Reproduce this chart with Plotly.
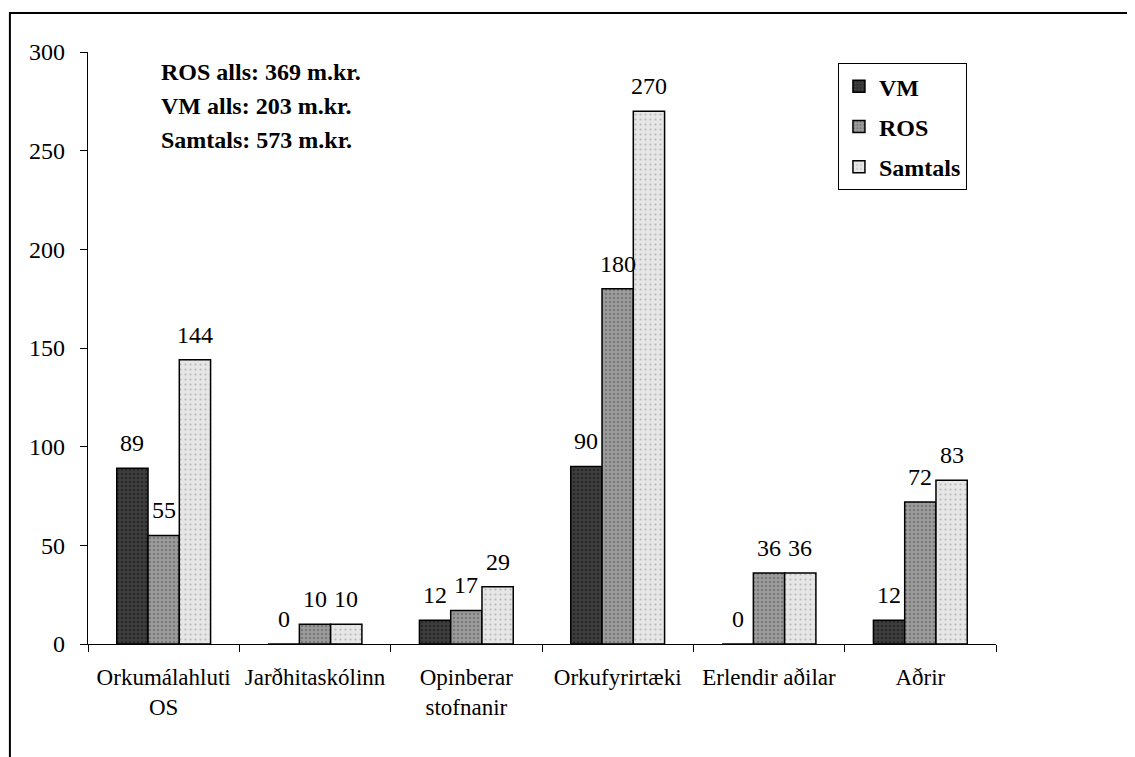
import plotly.graph_objects as go

# Categories and values (m.kr.)
CATEGORIES = ["Orkumálahluti<br>OS", "Jarðhitaskólinn", "Opinberar<br>stofnanir",
              "Orkufyrirtæki", "Erlendir aðilar", "Aðrir"]
VM = [89, 0, 12, 90, 0, 12]
ROS = [55, 10, 17, 180, 36, 72]
SAMTALS = [144, 10, 29, 270, 36, 83]

SUMMARY = ["ROS alls: 369 m.kr.", "VM alls: 203 m.kr.", "Samtals: 573 m.kr."]

SERIF = "Liberation Serif"
BAR_PX = 31.3  # width of one bar in pixels, used to place value labels

# (name, values, fill, stipple colour, stipple size, solidity)
SERIES = [
    ("VM", VM, "#3e3e3e", "#111111", 4, 0.35),
    ("ROS", ROS, "#9c9c9c", "#555555", 4, 0.3),
    ("Samtals", SAMTALS, "#e6e6e6", "#8a8a8a", 5, 0.15),
]

fig = go.Figure()
for i, (name, vals, fill, dots, size, solid) in enumerate(SERIES):
    fig.add_trace(go.Bar(
        x=CATEGORIES, y=vals, name=f"<b>{name}</b>", legendgroup=name,
        marker=dict(color=fill, line=dict(color="black", width=1.5),
                    pattern=dict(shape=".", fgcolor=dots, size=size,
                                 solidity=solid, fillmode="overlay")),
    ))
    # value labels sit a little higher than plotly's own outside text
    for cat, v in zip(CATEGORIES, vals):
        fig.add_annotation(
            x=cat, y=v, xref="x", yref="y", xshift=(i - 1) * BAR_PX, yshift=10,
            yanchor="bottom", showarrow=False, text=str(v),
            font=dict(family=SERIF, size=24, color="black"),
        )

# summary lines in the upper left corner
for i, line in enumerate(SUMMARY):
    fig.add_annotation(
        x=0.078, y=0.966 - i * 0.0575, xref="paper", yref="paper",
        xanchor="left", yanchor="middle", showarrow=False,
        text=f"<b>{line}</b>", font=dict(family=SERIF, size=24, color="black"),
    )

# outer chart-area frame (only left and top edges fall inside the picture)
fig.add_shape(type="rect", xref="paper", yref="paper",
              x0=-0.086, x1=1.3, y0=-0.4, y1=1.066,
              line=dict(color="black", width=2))

fig.update_layout(
    width=1127, height=749,
    margin=dict(l=80, r=139, t=44, b=113),
    paper_bgcolor="white", plot_bgcolor="white",
    barmode="group", bargap=0.38, bargroupgap=0,
    font=dict(family=SERIF, size=24, color="black"),
    showlegend=True,
    legend=dict(
        x=0.968, y=0.981, xanchor="right", yanchor="top",
        bordercolor="black", borderwidth=1, bgcolor="white",
        font=dict(family=SERIF, size=24, color="black"),
        traceorder="grouped", tracegroupgap=6,
        itemwidth=30,
    ),
)
fig.update_xaxes(
    showline=True, linecolor="black", linewidth=1.2,
    ticks="outside", ticklen=7, tickcolor="black", tickson="boundaries",
    tickfont=dict(family=SERIF, size=23), tickangle=0, showgrid=False,
    ticklabelstandoff=12,
)
fig.update_yaxes(
    range=[0, 300], dtick=50, showline=True, linecolor="black", linewidth=1.2,
    ticks="outside", ticklen=7, tickcolor="black", showgrid=False, zeroline=False,
    tickfont=dict(family=SERIF, size=24), ticklabelstandoff=10,
)

fig.write_html("out.html")
